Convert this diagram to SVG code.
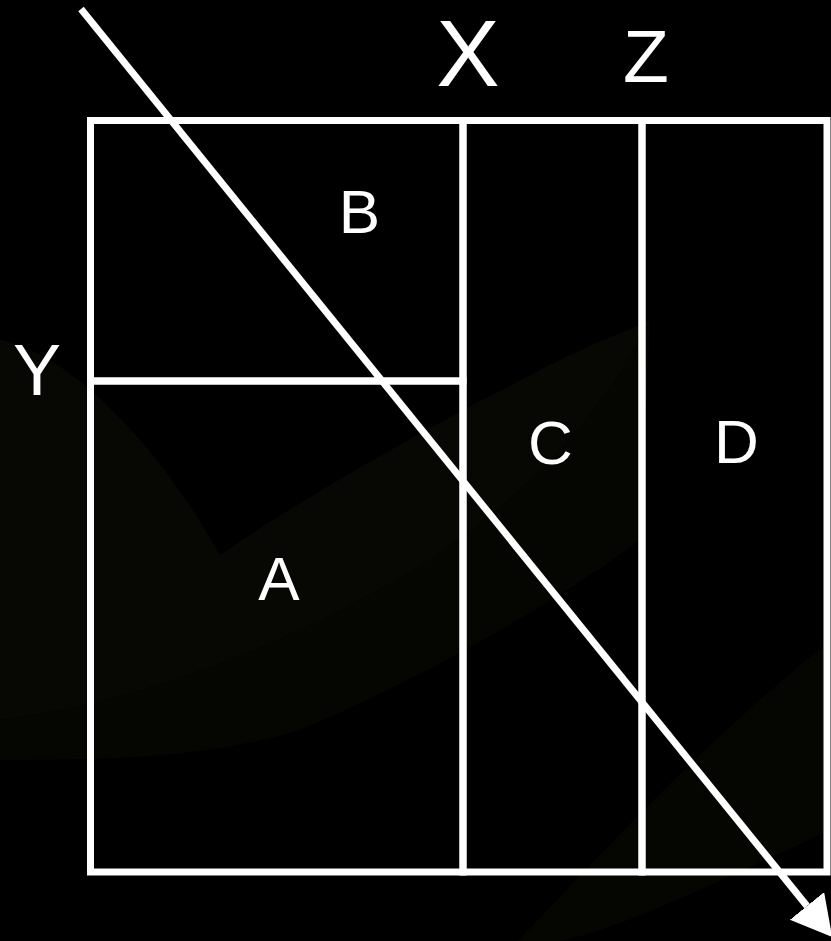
<svg xmlns="http://www.w3.org/2000/svg" width="831" height="941" viewBox="0 0 831 941">
<style>
.box{fill:none;stroke:#ffffff;stroke-width:7}
.lbl{font-family:"Liberation Sans",Arial,sans-serif;fill:#ffffff;text-anchor:middle}
.sm{font-size:62px}
.conn{stroke:#ffffff;stroke-width:7;fill:none}
</style>
<defs>
<marker id="ah" markerUnits="userSpaceOnUse" markerWidth="42" markerHeight="46" refX="0" refY="22" orient="auto" viewBox="0 0 42 46">
<path d="M0,0 L40,22 L0,44 z" fill="#ffffff"/>
</marker>
</defs>
<rect x="0" y="0" width="831" height="941" fill="#000000"/>
<g id="background">
<path d="M0,340 C60,350 150,430 220,555 C300,500 420,430 560,360 C600,340 630,330 650,320 C600,420 520,500 430,560 C300,640 150,700 0,720 Z" fill="#070703"/>
<path d="M0,720 C150,700 300,640 430,560 C520,500 600,420 650,320 L640,540 C560,600 420,680 300,730 C200,760 100,760 0,760 Z" fill="#050502"/>
<path d="M480,980 C560,900 680,760 831,640 L831,830 C720,880 620,930 560,941 Z" fill="#050502"/>
</g>
<g id="region-B"><rect class="box" x="90.5" y="120.5" width="372.5" height="260.5"/><text class="lbl sm" x="359.5" y="233">B</text></g>
<g id="region-A"><rect class="box" x="90.5" y="381" width="372.5" height="491"/><text class="lbl sm" x="279" y="600">A</text></g>
<g id="region-C"><rect class="box" x="463" y="120.5" width="179" height="751.5"/><text class="lbl sm" x="550.5" y="464">C</text></g>
<g id="region-D"><rect class="box" x="642" y="120.5" width="185" height="751.5"/><text class="lbl sm" x="736.5" y="463">D</text></g>
<g id="label-X"><text class="lbl" x="468" y="86" font-size="95">X</text></g>
<g id="label-Z"><text class="lbl" x="646" y="82" font-size="75">Z</text></g>
<g id="label-Y"><text class="lbl" x="37" y="395" font-size="72">Y</text></g>
<g id="connectors">
<path class="conn" d="M81,9 L807,906" marker-end="url(#ah)"/>
</g>
</svg>
